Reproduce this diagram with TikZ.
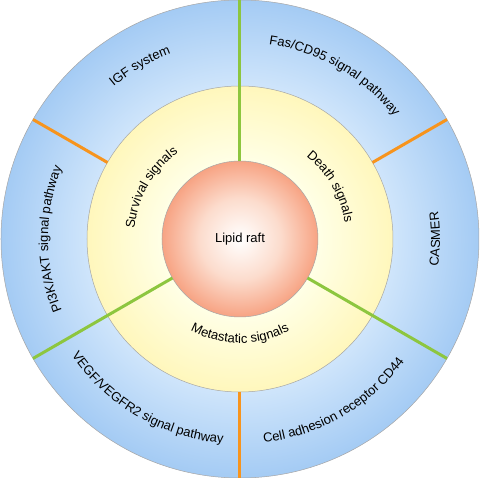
\documentclass[tikz,border=0pt]{standalone}
\usepackage{fontspec}
\setmainfont{Liberation Sans}
\usepackage{xcolor}
\usepackage{tikz}
\usetikzlibrary{decorations.text}

\definecolor{ringlight}{HTML}{CFE5FB}
\definecolor{ringdark}{HTML}{A4CBF4}
\definecolor{signallight}{HTML}{FFFFE6}
\definecolor{signaldark}{HTML}{FFF7BC}
\definecolor{raftmid}{HTML}{FCDCCD}
\definecolor{raftedge}{HTML}{F7A383}
\definecolor{splitgreen}{HTML}{8DC63F}
\definecolor{splitorange}{HTML}{F7941D}

\pgfdeclareradialshading{ringshade}{\pgfpointorigin}{color(0bp)=(ringlight); color(16bp)=(ringlight); color(25bp)=(ringdark); color(50bp)=(ringdark)}
\pgfdeclareradialshading{signalshade}{\pgfpointorigin}{color(0bp)=(signallight); color(12.7bp)=(signallight); color(25bp)=(signaldark); color(50bp)=(signaldark)}
\pgfdeclareradialshading{raftshade}{\pgfpointorigin}{color(0bp)=(white); color(13bp)=(raftmid); color(25bp)=(raftedge); color(50bp)=(raftedge)}

\newcommand{\ringfont}{\fontsize{13}{15.5}\selectfont}

\begin{document}
\begin{tikzpicture}[ x = 1pt, y = 1pt
                   , font = \ringfont
                   , ring/.style = { circle
                                   , draw = gray!70
                                   , line width = 0.5pt
                                   , inner sep = 0pt
                                   , outer sep = 0pt }
                   , green split/.style = {draw = splitgreen, line width = 3pt}
                   , orange split/.style = {draw = splitorange, line width = 3pt}
                   , arc label/.style = { decorate
                                        , decoration = { text along path
                                                       , text align = center
                                                       , text = {#1} } }
                   ]

  \useasboundingbox (-240,-239) rectangle (240,239);

  \node (outer) [ring, minimum size = 478pt, shading = ringshade] at (0,0) {};
  \node (signals) [ring, minimum size = 306pt, shading = signalshade] at (0,0) {};
  \node (raft) [ring, minimum size = 156pt, shading = raftshade] at (0,0) {Lipid raft};

  % sector borders
  \draw [green split] (raft.90) -- (outer.90);
  \draw [green split] (raft.210) -- (outer.210);
  \draw [green split] (raft.330) -- (outer.330);
  \draw [orange split] (signals.30) -- (outer.30);
  \draw [orange split] (signals.150) -- (outer.150);
  \draw [orange split] (signals.270) -- (outer.270);

  % outer ring
  \path [arc label = {|\ringfont|IGF system}]
    (150:198) arc [start angle = 150, end angle = 90, radius = 198];
  \path [arc label = {|\ringfont|Fas/CD95 signal pathway}]
    (90:197) arc [start angle = 90, end angle = 30, radius = 197];
  \path [arc label = {|\ringfont|CASMER}]
    (-30:200) arc [start angle = -30, end angle = 30, radius = 200];
  \path [arc label = {|\ringfont|Cell adhesion receptor CD44}]
    (270:205) arc [start angle = 270, end angle = 330, radius = 205];
  \path [arc label = {|\ringfont|VEGF/VEGFR2 signal pathway}]
    (210:205) arc [start angle = 210, end angle = 270, radius = 205];
  \path [arc label = {|\ringfont|PI3K/AKT signal pathway}]
    (210:192) arc [start angle = 210, end angle = 150, radius = 192];

  % middle ring
  \path [arc label = {|\ringfont|Survival signals}]
    (210:106) arc [start angle = 210, end angle = 90, radius = 106];
  \path [arc label = {|\ringfont|Death signals}]
    (90:106) arc [start angle = 90, end angle = -30, radius = 106];
  \path [arc label = {|\ringfont|Metastatic signals}]
    (210:104) arc [start angle = 210, end angle = 330, radius = 104];

\end{tikzpicture}
\end{document}
